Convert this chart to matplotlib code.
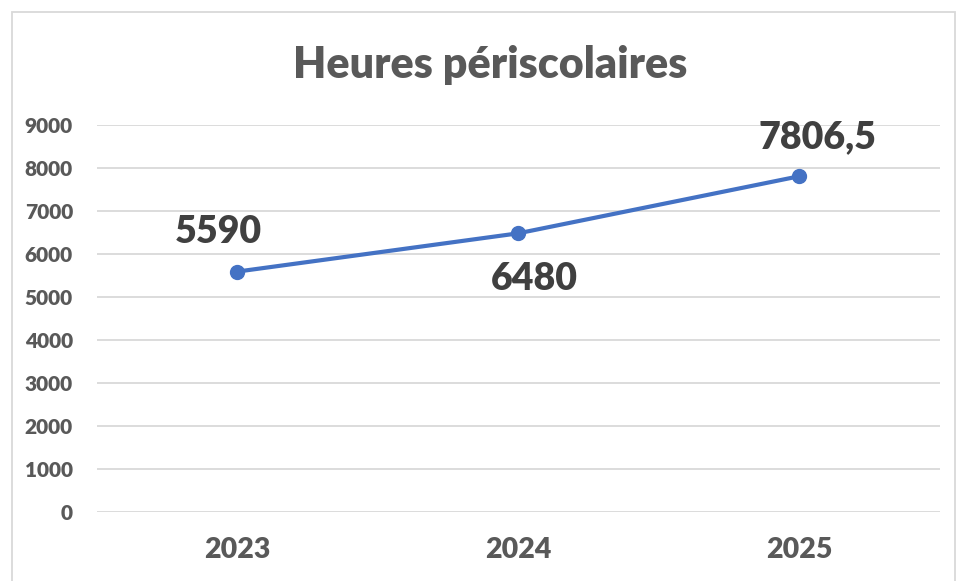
import matplotlib
matplotlib.use("Agg")
import matplotlib.pyplot as plt
from matplotlib.patches import Rectangle

# data
years = ["2023", "2024", "2025"]
hours = [5590, 6480, 7806.5]
value_labels = ["5590", "6480", "7806,5"]
y_ticks = [0, 1000, 2000, 3000, 4000, 5000, 6000, 7000, 8000, 9000]

plt.rcParams["font.family"] = ["Lato", "DejaVu Sans"]

line_color = "#4472C4"
grid_color = "#D9D9D9"
tick_color = "#595959"
label_color = "#404040"

fig = plt.figure(figsize=(9.59, 5.81), dpi=100)
ax = fig.add_axes([96.5 / 959, 69 / 581, 843 / 959, 387 / 581])

x = list(range(len(years)))
ax.plot(x, hours, color=line_color, linewidth=3.0, marker="o", markersize=10,
        solid_capstyle="round", zorder=3)

# data labels, placed roughly like Excel did (pixel offsets)
offsets = [(-19, 40), (16, -46), (18, 39)]
for xi, yi, lab, off in zip(x, hours, value_labels, offsets):
    ax.annotate(lab, (xi, yi), xytext=off, textcoords="offset pixels",
                ha="center", va="center", fontsize=27, fontweight="heavy",
                color=label_color)

ax.set_xlim(-0.5, len(years) - 0.5)
ax.set_ylim(0, 9000)
ax.set_yticks(y_ticks)
ax.set_yticklabels([str(t) for t in y_ticks])
ax.set_xticks(x)
ax.set_xticklabels(years)

ax.grid(axis="y", color=grid_color, linewidth=1.3)
ax.set_axisbelow(True)
for side in ["top", "right", "left", "bottom"]:
    ax.spines[side].set_visible(False)
ax.tick_params(axis="y", length=0, pad=17, labelsize=15, labelcolor=tick_color)
ax.tick_params(axis="x", length=0, pad=18, labelsize=20.5, labelcolor=tick_color)
for lbl in ax.get_xticklabels() + ax.get_yticklabels():
    lbl.set_fontweight("heavy")

fig.text(490 / 959, 1 - 65 / 581, "Heures périscolaires", ha="center", va="center",
         fontsize=31, fontweight="heavy", color=tick_color)

# outer chart border
fig.patches.append(Rectangle((12 / 959, -0.01), 943 / 959, 1 - 12 / 581 + 0.01,
                             transform=fig.transFigure, fill=False,
                             edgecolor=grid_color, linewidth=1.3))

fig.savefig("out.png", dpi=100)
